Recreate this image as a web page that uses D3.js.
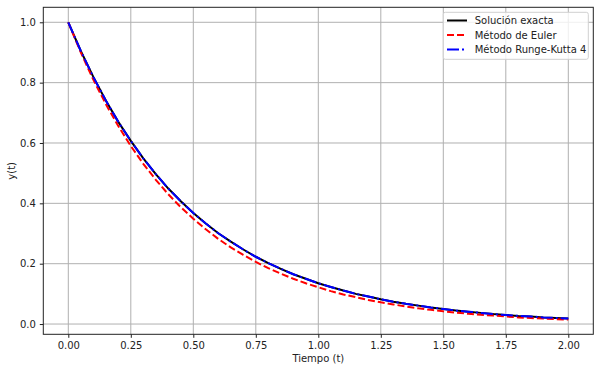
<!DOCTYPE html>
<html><head><meta charset="utf-8">
<script src="https://cdn.jsdelivr.net/npm/d3@7"></script>
<style>body{margin:0;background:#fff}svg{display:block;font-family:"DejaVu Sans",sans-serif}</style>
</head><body><svg id="c" width="600" height="372"></svg>
<script>
const tValues = [0,0.05,0.1,0.15,0.2,0.25,0.3,0.35,0.4,0.45,0.5,0.55,0.6,0.65,0.7,0.75,0.8,0.85,0.9,0.95,1.0,1.05,1.1,1.15,1.2,1.25,1.3,1.35,1.4,1.45,1.5,1.55,1.6,1.65,1.7,1.75,1.8,1.85,1.9,1.95,2.0];
const exactValues = [1.000,0.905,0.819,0.741,0.670,0.607,0.549,0.497,0.449,0.407,0.368,0.333,0.301,0.273,0.247,0.223,0.202,0.183,0.165,0.150,0.135,0.123,0.111,0.100,0.091,0.082,0.074,0.067,0.061,0.055,0.050,0.045,0.041,0.037,0.033,0.030,0.027,0.025,0.022,0.020,0.018];
const eulerValues = [1.000,0.900,0.810,0.729,0.656,0.590,0.531,0.478,0.430,0.387,0.349,0.314,0.282,0.254,0.229,0.206,0.185,0.167,0.150,0.135,0.122,0.109,0.098,0.089,0.080,0.072,0.065,0.058,0.052,0.047,0.042,0.038,0.034,0.031,0.028,0.025,0.022,0.020,0.018,0.016,0.015];
const rk4Values = [1.000,0.905,0.819,0.741,0.670,0.607,0.549,0.497,0.449,0.407,0.368,0.333,0.301,0.273,0.247,0.223,0.202,0.183,0.165,0.150,0.135,0.123,0.111,0.100,0.091,0.082,0.074,0.067,0.061,0.055,0.050,0.045,0.041,0.037,0.033,0.030,0.027,0.025,0.022,0.020,0.018];
const xTicks = [0,0.25,0.5,0.75,1.0,1.25,1.5,1.75,2.0];
const yTicks = [0,0.2,0.4,0.6,0.8,1.0];
const seriesNames = ["Solución exacta","Método de Euler","Método Runge-Kutta 4"];

const svg = d3.select("#c");
const L=43.3,R=593.3,T=7.3,B=334.3;
const x = d3.scaleLinear().domain([-0.1,2.1]).range([L,R]);
const y = d3.scaleLinear().domain([-0.034,1.0497]).range([B,T]);

// grid
const g = svg.append("g");
g.selectAll(".gx").data(xTicks).join("line")
 .attr("x1",d=>x(d)).attr("x2",d=>x(d)).attr("y1",T).attr("y2",B)
 .attr("stroke","#b0b0b0").attr("stroke-width",1);
g.selectAll(".gy").data(yTicks).join("line")
 .attr("y1",d=>y(d)).attr("y2",d=>y(d)).attr("x1",L).attr("x2",R)
 .attr("stroke","#b0b0b0").attr("stroke-width",1);

// lines
const mk = vals => d3.line().x((d,i)=>x(tValues[i])).y(d=>y(d))(vals);
svg.append("path").attr("d",mk(exactValues)).attr("fill","none").attr("stroke","#000").attr("stroke-width",2);
svg.append("path").attr("d",mk(eulerValues)).attr("fill","none").attr("stroke","#ff0000").attr("stroke-width",2).attr("stroke-dasharray","7,3");
svg.append("path").attr("d",mk(rk4Values)).attr("fill","none").attr("stroke","#0000ff").attr("stroke-width",2).attr("stroke-dasharray","12,3,2,3");

// axes
const fx = d3.format(".2f"), fy = d3.format(".1f");
const ax = svg.append("g").attr("transform",`translate(0,${B})`)
 .call(d3.axisBottom(x).tickValues(xTicks).tickFormat(fx).tickSizeOuter(0).tickSize(3.5).tickPadding(4));
const ay = svg.append("g").attr("transform",`translate(${L},0)`)
 .call(d3.axisLeft(y).tickValues(yTicks).tickFormat(fy).tickSizeOuter(0).tickSize(3.5).tickPadding(4));
[ax,ay].forEach(a=>{a.selectAll("text").attr("font-size",10).attr("fill","#222").attr("font-family","DejaVu Sans");
 a.selectAll("line").attr("stroke","#222"); a.select(".domain").remove();});
svg.append("rect").attr("x",L).attr("y",T).attr("width",R-L).attr("height",B-T)
 .attr("fill","none").attr("stroke","#222").attr("stroke-width",1);

svg.append("text").attr("x",(L+R)/2).attr("y",362).attr("text-anchor","middle").attr("font-size",10).attr("fill","#222").text("Tiempo (t)");
svg.append("text").attr("transform",`translate(15,${(T+B)/2}) rotate(-90)`).attr("text-anchor","middle").attr("font-size",10).attr("fill","#222").text("y(t)");

// legend
const lg = svg.append("g");
lg.append("rect").attr("x",443.3).attr("y",12.3).attr("width",145).attr("height",47).attr("rx",2)
 .attr("fill","#fff").attr("fill-opacity",0.8).attr("stroke","#d0d0d0").attr("stroke-width",1);
const styles = [{c:"#000",d:null},{c:"#ff0000",d:"7,3"},{c:"#0000ff",d:"12,3,2,3"}];
seriesNames.forEach((n,i)=>{
  const yy = 20.5 + i*14.5;
  lg.append("line").attr("x1",447).attr("x2",467).attr("y1",yy).attr("y2",yy)
    .attr("stroke",styles[i].c).attr("stroke-width",2).attr("stroke-dasharray",styles[i].d);
  lg.append("text").attr("x",474.7).attr("y",yy+3.5).attr("font-size",10).attr("fill","#222").text(n);
});
</script></body></html>
